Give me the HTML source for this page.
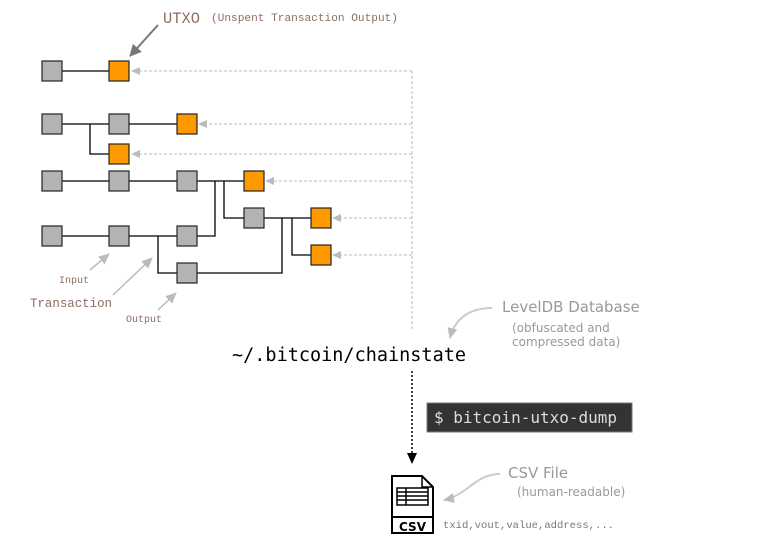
<!DOCTYPE html>
<html><head><meta charset="utf-8"><style>
html,body{margin:0;padding:0;background:#fff;width:760px;height:548px;overflow:hidden}
svg{display:block}
.m{font-family:"Liberation Mono","DejaVu Sans Mono",monospace}
.s{font-family:"DejaVu Sans","Liberation Sans",sans-serif}
</style></head><body>
<svg width="760" height="548" viewBox="0 0 760 548">
<defs>
<marker id="ga" markerWidth="10" markerHeight="10" refX="8" refY="5" orient="auto" markerUnits="userSpaceOnUse"><path d="M0,1 L9,5 L0,9 Z" fill="#bbb"/></marker>
<marker id="da" markerWidth="14" markerHeight="14" refX="11" refY="7" orient="auto" markerUnits="userSpaceOnUse"><path d="M0,1 L12,7 L0,13 Z" fill="#777"/></marker>
<marker id="la" markerWidth="12" markerHeight="12" refX="10" refY="6" orient="auto" markerUnits="userSpaceOnUse"><path d="M0,1 L11,6 L0,11 Z" fill="#bbb"/></marker>
<marker id="ba" markerWidth="12" markerHeight="12" refX="10" refY="6" orient="auto" markerUnits="userSpaceOnUse"><path d="M0,1 L11,6 L0,11 Z" fill="#000"/></marker>
</defs>
<g stroke="#000" stroke-width="1.3" fill="none">
<path d="M62,71H109"/>
<path d="M62,124H109M129,124H177M90,124V154H109"/>
<path d="M62,181H109M129,181H177M197,181H244M215,181V236H197M224,181V218H244"/>
<path d="M264,218H311M282,218V273H197M292,218V255H311"/>
<path d="M62,236H109M129,236H177M158,236V273H177"/>
</g>
<g stroke="#bbb" stroke-width="1" stroke-dasharray="3,2" fill="none">
<path d="M412,71V330"/>
<path d="M412,71H132" marker-end="url(#ga)"/>
<path d="M412,124H199" marker-end="url(#ga)"/>
<path d="M412,154H132" marker-end="url(#ga)"/>
<path d="M412,181H266" marker-end="url(#ga)"/>
<path d="M412,218H333" marker-end="url(#ga)"/>
<path d="M412,255H333" marker-end="url(#ga)"/>
</g>
<g stroke="#222" stroke-width="1.2">
<g fill="#b3b3b3">
<rect x="42" y="61" width="20" height="20"/>
<rect x="42" y="114" width="20" height="20"/><rect x="109" y="114" width="20" height="20"/>
<rect x="42" y="171" width="20" height="20"/><rect x="109" y="171" width="20" height="20"/><rect x="177" y="171" width="20" height="20"/>
<rect x="244" y="208" width="20" height="20"/>
<rect x="42" y="226" width="20" height="20"/><rect x="109" y="226" width="20" height="20"/><rect x="177" y="226" width="20" height="20"/>
<rect x="177" y="263" width="20" height="20"/>
</g>
<g fill="#ff9900">
<rect x="109" y="61" width="20" height="20"/>
<rect x="177" y="114" width="20" height="20"/>
<rect x="109" y="144" width="20" height="20"/>
<rect x="244" y="171" width="20" height="20"/>
<rect x="311" y="208" width="20" height="20"/>
<rect x="311" y="245" width="20" height="20"/>
</g>
</g>
<path d="M158,25L130,56" stroke="#777" stroke-width="2" fill="none" marker-end="url(#da)"/>
<path d="M90,270L109,254" stroke="#bbb" stroke-width="1.5" fill="none" marker-end="url(#la)"/>
<path d="M113,295L152,258" stroke="#bbb" stroke-width="1.5" fill="none" marker-end="url(#la)"/>
<path d="M158,310L176,293" stroke="#bbb" stroke-width="1.5" fill="none" marker-end="url(#la)"/>
<path d="M492,308C470,308 455,318 450,338" stroke="#ccc" stroke-width="2" fill="none" marker-end="url(#la)"/>
<path d="M500,474C475,474 468,495 444,500" stroke="#ccc" stroke-width="2" fill="none" marker-end="url(#la)"/>
<text x="163" y="23" class="m" font-size="16" fill="#8b6d62" textLength="37" lengthAdjust="spacingAndGlyphs">UTXO</text>
<text x="211" y="21" class="m" font-size="11" fill="#8b6d62" textLength="187" lengthAdjust="spacingAndGlyphs">(Unspent Transaction Output)</text>
<text x="59" y="283" class="m" font-size="10" fill="#8b6d62">Input</text>
<text x="30" y="307" class="m" font-size="13" fill="#8b6d62" textLength="82" lengthAdjust="spacingAndGlyphs">Transaction</text>
<text x="126" y="322" class="m" font-size="10" fill="#8b6d62">Output</text>
<text x="232" y="361" font-family="DejaVu Sans Mono,Liberation Mono,monospace" font-size="18.5" fill="#000" textLength="234" lengthAdjust="spacingAndGlyphs">~/.bitcoin/chainstate</text>
<text x="502" y="312" class="s" font-size="15" fill="#999">LevelDB Database</text>
<text x="512" y="332" class="s" font-size="12" fill="#999">(obfuscated and</text>
<text x="512" y="346" class="s" font-size="12" fill="#999">compressed data)</text>
<path d="M412,371V463" stroke="#000" stroke-width="1.5" stroke-dasharray="2,2" fill="none" marker-end="url(#ba)"/>
<rect x="427" y="403" width="205" height="29" fill="#333" stroke="#777" stroke-width="1"/>
<text x="434" y="423" font-family="DejaVu Sans Mono,Liberation Mono,monospace" font-size="16" fill="#ddd">$ bitcoin-utxo-dump</text>
<text x="508" y="478" class="s" font-size="15" fill="#999">CSV File</text>
<text x="517" y="496" class="s" font-size="12" fill="#999">(human-readable)</text>
<text x="443" y="528" class="m" font-size="10.5" fill="#777" textLength="171" lengthAdjust="spacingAndGlyphs">txid,vout,value,address,...</text>
<path d="M392,476H422L433,487V533H392Z" fill="#fff" stroke="#000" stroke-width="2"/>
<path d="M422,476V487H433" fill="none" stroke="#000" stroke-width="1.5"/>
<path d="M392,517H433" stroke="#000" stroke-width="2"/>
<g fill="none" stroke="#000" stroke-width="1.5">
<rect x="397" y="488" width="31" height="17"/>
<path d="M397,492H428M397,496H428M397,500H428M406,488V505"/>
</g>
<text x="412.5" y="531" text-anchor="middle" font-family="DejaVu Sans,sans-serif" font-weight="bold" font-size="12" fill="#000">CSV</text>
</svg>
</body></html>
